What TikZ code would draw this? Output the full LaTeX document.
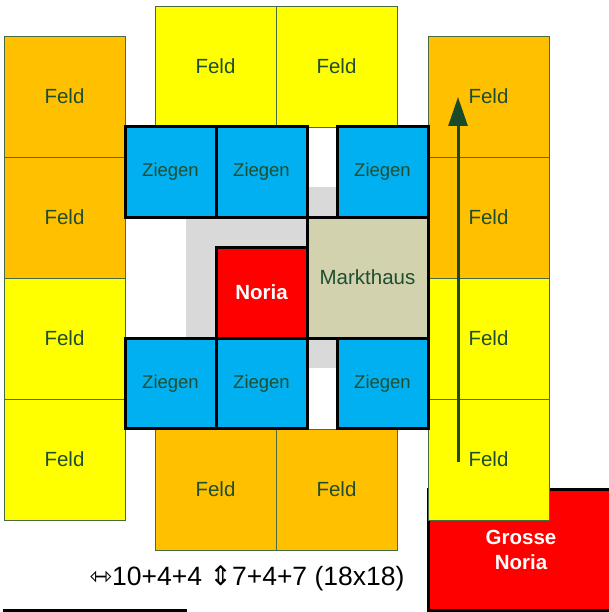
\documentclass[tikz,border=0pt]{standalone}
\usepackage{fontspec}
\setmainfont{Liberation Sans}
\newfontfamily\arrowfont{DejaVu Sans}
\usetikzlibrary{arrows.meta}
\definecolor{forange}{HTML}{FFC000}
\definecolor{fyellow}{HTML}{FFFF00}
\definecolor{fborder}{HTML}{4A6A40}
\definecolor{ftext}{HTML}{1F4E30}
\definecolor{zblue}{HTML}{00B0F0}
\definecolor{nred}{HTML}{FF0000}
\definecolor{mtan}{HTML}{D2D3AE}
\definecolor{pgray}{HTML}{D9D9D9}
\definecolor{arrowc}{HTML}{1A4A2A}
\begin{document}
\begin{tikzpicture}[x=1pt,y=-1pt,
  feld/.style={draw=fborder, line width=0.8pt, minimum width=121pt, minimum height=121pt,
    inner sep=0pt, outer sep=0pt, font=\fontsize{20.5}{24}\selectfont, text=ftext},
  ziege/.style={draw=black, line width=3pt, fill=zblue, minimum width=91pt, minimum height=90pt,
    inner sep=0pt, outer sep=0pt, font=\fontsize{18.5}{22}\selectfont, text=ftext},
  noriabox/.style={draw=black, line width=3pt, fill=nred, inner sep=0pt, outer sep=0pt,
    font=\fontsize{20.5}{25}\selectfont\bfseries, text=white, align=center}]
\useasboundingbox (0,0) rectangle (608,612);
% left column
\node[feld, fill=forange] (l1) at (64.5,96.5) {Feld};
\node[feld, fill=forange] (l2) at (64.5,217.5) {Feld};
\node[feld, fill=fyellow] (l3) at (64.5,338.5) {Feld};
\node[feld, fill=fyellow] (l4) at (64.5,459.5) {Feld};
% top
\node[feld, fill=fyellow] (t1) at (215.5,66.5) {Feld};
\node[feld, fill=fyellow] (t2) at (336.5,66.5) {Feld};
% bottom
\node[feld, fill=forange] (b1) at (215.5,489.5) {Feld};
\node[feld, fill=forange] (b2) at (336.5,489.5) {Feld};
% grosse noria (under right column)
\node[noriabox, minimum width=186pt, minimum height=121pt] (gn) at (521,549.5) {Grosse\\Noria};
% right column
\node[feld, fill=forange] (r1) at (488.5,96.5) {Feld};
\node[feld, fill=forange] (r2) at (488.5,217.5) {Feld};
\node[feld, fill=fyellow] (r3) at (488.5,338.5) {Feld};
\node[feld, fill=fyellow] (r4) at (488.5,459.5) {Feld};
% gray plaza
\fill[pgray] (186,187) rectangle (337,368);
% Ziegen
\node[ziege] (z1) at (170.5,172) {Ziegen};
\node[ziege] (z2) at (261.5,172) {Ziegen};
\node[ziege] (z3) at (382.5,172) {Ziegen};
\node[ziege] (z4) at (170.5,383.5) {Ziegen};
\node[ziege] (z5) at (261.5,383.5) {Ziegen};
\node[ziege] (z6) at (382.5,383.5) {Ziegen};
% Noria and Markthaus
\node[noriabox, minimum width=91pt, minimum height=91pt] (noria) at (261.5,292.5) {Noria};
\node[draw=black, line width=3pt, fill=mtan, minimum width=121pt, minimum height=121pt,
  inner sep=0pt, outer sep=0pt, font=\fontsize{20.5}{24}\selectfont, text=ftext] (mh) at (367.5,277.5) {Markthaus};
% arrow
\coordinate (as) at (458,462);
\coordinate (ae) at (458,97);
\draw[arrowc, line width=3pt, -{Triangle[width=19pt,length=29pt]}] (as) -- (ae);
% dimension text
\node[font=\fontsize{26.5}{32}\selectfont, text=black, inner sep=0pt] (dims) at (247,578)
  {{\arrowfont\fontsize{27}{30}\selectfont ⇿}10+4+4 {\arrowfont\fontsize{27}{30}\selectfont ⇕}7+4+7 (18x18)};
% bottom-left line
\coordinate (bl1) at (3,610.5);
\coordinate (bl2) at (187,610.5);
\draw[line width=3pt] (bl1) -- (bl2);
\end{tikzpicture}
\end{document}
